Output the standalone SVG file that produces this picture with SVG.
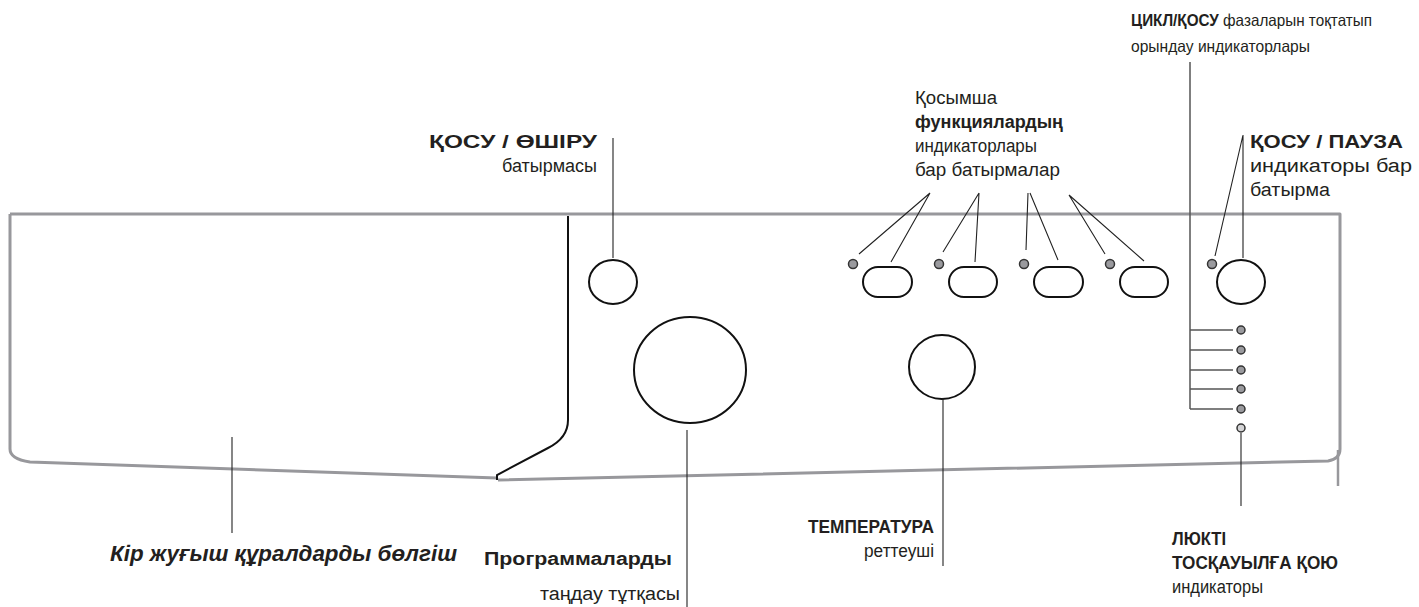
<svg xmlns="http://www.w3.org/2000/svg" width="1419" height="607" viewBox="0 0 1419 607">
<style>
text{font-family:"Liberation Sans",Arial,sans-serif;font-size:18px;fill:#231f20}
.b{font-weight:bold;font-size:17.5px}
.e{text-anchor:end}
.panel{fill:none;stroke:#98989c;stroke-width:3;stroke-linejoin:round}
.ctl{fill:#fff;stroke:#111;stroke-width:2}
.led{fill:#9a9a9e;stroke:#333;stroke-width:1.5}
.ld{fill:none;stroke:#222;stroke-width:1.1}
.lg{fill:none;stroke:#555;stroke-width:1.5}
</style>
<g id="panel">
<path class="panel" d="M10,214 L1340,214 L1340,449 Q1340,459 1328,461 Q900,472 498,480"/>
<path class="panel" d="M10,214 L10,449 Q10,459 30,462 L497,478"/>
<path class="panel" d="M1338,450 L1338,486" style="stroke-width:2.5"/>
<path d="M568,216 L568,420 Q568,438 548,448 L497,475 L497,480" fill="none" stroke="#111" stroke-width="2"/>
</g>
<g id="onoff"><ellipse class="ctl" cx="613" cy="282" rx="24" ry="22"/></g>
<g id="prog-knob"><ellipse class="ctl" cx="690" cy="370" rx="56" ry="53"/></g>
<g id="temp-knob"><ellipse class="ctl" cx="942" cy="367" rx="33" ry="32"/></g>
<g id="func-buttons">
<circle class="led" cx="853" cy="264" r="4.5"/><rect class="ctl" x="863" y="267" width="49" height="30" rx="15"/>
<circle class="led" cx="939" cy="264" r="4.5"/><rect class="ctl" x="949" y="267" width="48" height="30" rx="15"/>
<circle class="led" cx="1024" cy="264" r="4.5"/><rect class="ctl" x="1034" y="267" width="49" height="30" rx="15"/>
<circle class="led" cx="1110" cy="264" r="4.5"/><rect class="ctl" x="1120" y="267" width="48" height="30" rx="15"/>
</g>
<g id="start-pause">
<circle class="led" cx="1212" cy="264" r="4.5"/>
<ellipse class="ctl" cx="1241" cy="282" rx="24" ry="22"/>
</g>
<g id="cycle-leds">
<circle class="led" cx="1241" cy="330" r="4"/>
<circle class="led" cx="1241" cy="350" r="4"/>
<circle class="led" cx="1241" cy="370" r="4"/>
<circle class="led" cx="1241" cy="389" r="4"/>
<circle class="led" cx="1241" cy="409" r="4"/>
</g>
<g id="lock-led"><circle class="led" cx="1241" cy="428" r="4" style="fill:#d4d4d6"/></g>
<g id="connectors">
<path class="ld" d="M613,138 L613,258"/>
<path class="ld" d="M687,430 L687,607"/>
<path class="ld" d="M943,398 L943,566"/>
<path class="ld" d="M232,437 L232,533"/>
<path class="ld" d="M930,193 L859,254 M930,193 L891,262"/>
<path class="ld" d="M979,193 L943,252 M979,193 L975,262"/>
<path class="ld" d="M1028,193 L1026,250 M1030,193 L1058,260"/>
<path class="ld" d="M1069,195 L1105,254 M1069,195 L1144,261"/>
<path class="ld" d="M1243,135 L1215,256 M1243,135 L1243,258"/>
<path class="lg" d="M1190,62 L1190,409 M1190,330 L1233,330 M1190,350 L1233,350 M1190,370 L1233,370 M1190,389 L1233,389 M1190,409 L1233,409"/>
<path class="ld" d="M1241,433 L1241,506"/>
</g>
<g id="labels">
<text x="1131" y="26" style="font-size:16.5px" textLength="241" lengthAdjust="spacingAndGlyphs"><tspan style="font-weight:bold">ЦИКЛ/ҚОСУ</tspan> фазаларын тоқтатып</text>
<text x="1131" y="52" style="font-size:16.5px" textLength="179" lengthAdjust="spacingAndGlyphs">орындау индикаторлары</text>
<text x="915" y="104" textLength="82" lengthAdjust="spacingAndGlyphs">Қосымша</text>
<text x="915" y="128" class="b" textLength="148" lengthAdjust="spacingAndGlyphs">функциялардың</text>
<text x="915" y="152" textLength="122" lengthAdjust="spacingAndGlyphs">индикаторлары</text>
<text x="915" y="176" textLength="145" lengthAdjust="spacingAndGlyphs">бар батырмалар</text>
<text x="597" y="148" class="b e" textLength="168" lengthAdjust="spacingAndGlyphs">ҚОСУ / ӨШІРУ</text>
<text x="597" y="172" class="e" textLength="95" lengthAdjust="spacingAndGlyphs">батырмасы</text>
<text x="1250" y="148" class="b" textLength="153" lengthAdjust="spacingAndGlyphs">ҚОСУ / ПАУЗА</text>
<text x="1250" y="172" textLength="162" lengthAdjust="spacingAndGlyphs">индикаторы бар</text>
<text x="1250" y="196" textLength="80" lengthAdjust="spacingAndGlyphs">батырма</text>
<text x="934" y="533" class="b e" textLength="126" lengthAdjust="spacingAndGlyphs">ТЕМПЕРАТУРА</text>
<text x="934" y="557" class="e" textLength="70" lengthAdjust="spacingAndGlyphs">реттеуші</text>
<text x="672" y="565" class="b e" textLength="188" lengthAdjust="spacingAndGlyphs">Программаларды</text>
<text x="680" y="600" class="e" textLength="140" lengthAdjust="spacingAndGlyphs">таңдау тұтқасы</text>
<text x="110" y="561" class="b" style="font-style:italic;font-size:22px" textLength="347" lengthAdjust="spacingAndGlyphs">Кір жуғыш құралдарды бөлгіш</text>
<text x="1172" y="545" class="b" textLength="54" lengthAdjust="spacingAndGlyphs">ЛЮКТІ</text>
<text x="1172" y="569" class="b" textLength="166" lengthAdjust="spacingAndGlyphs">ТОСҚАУЫЛҒА ҚОЮ</text>
<text x="1172" y="593" textLength="91" lengthAdjust="spacingAndGlyphs">индикаторы</text>
</g>
</svg>
